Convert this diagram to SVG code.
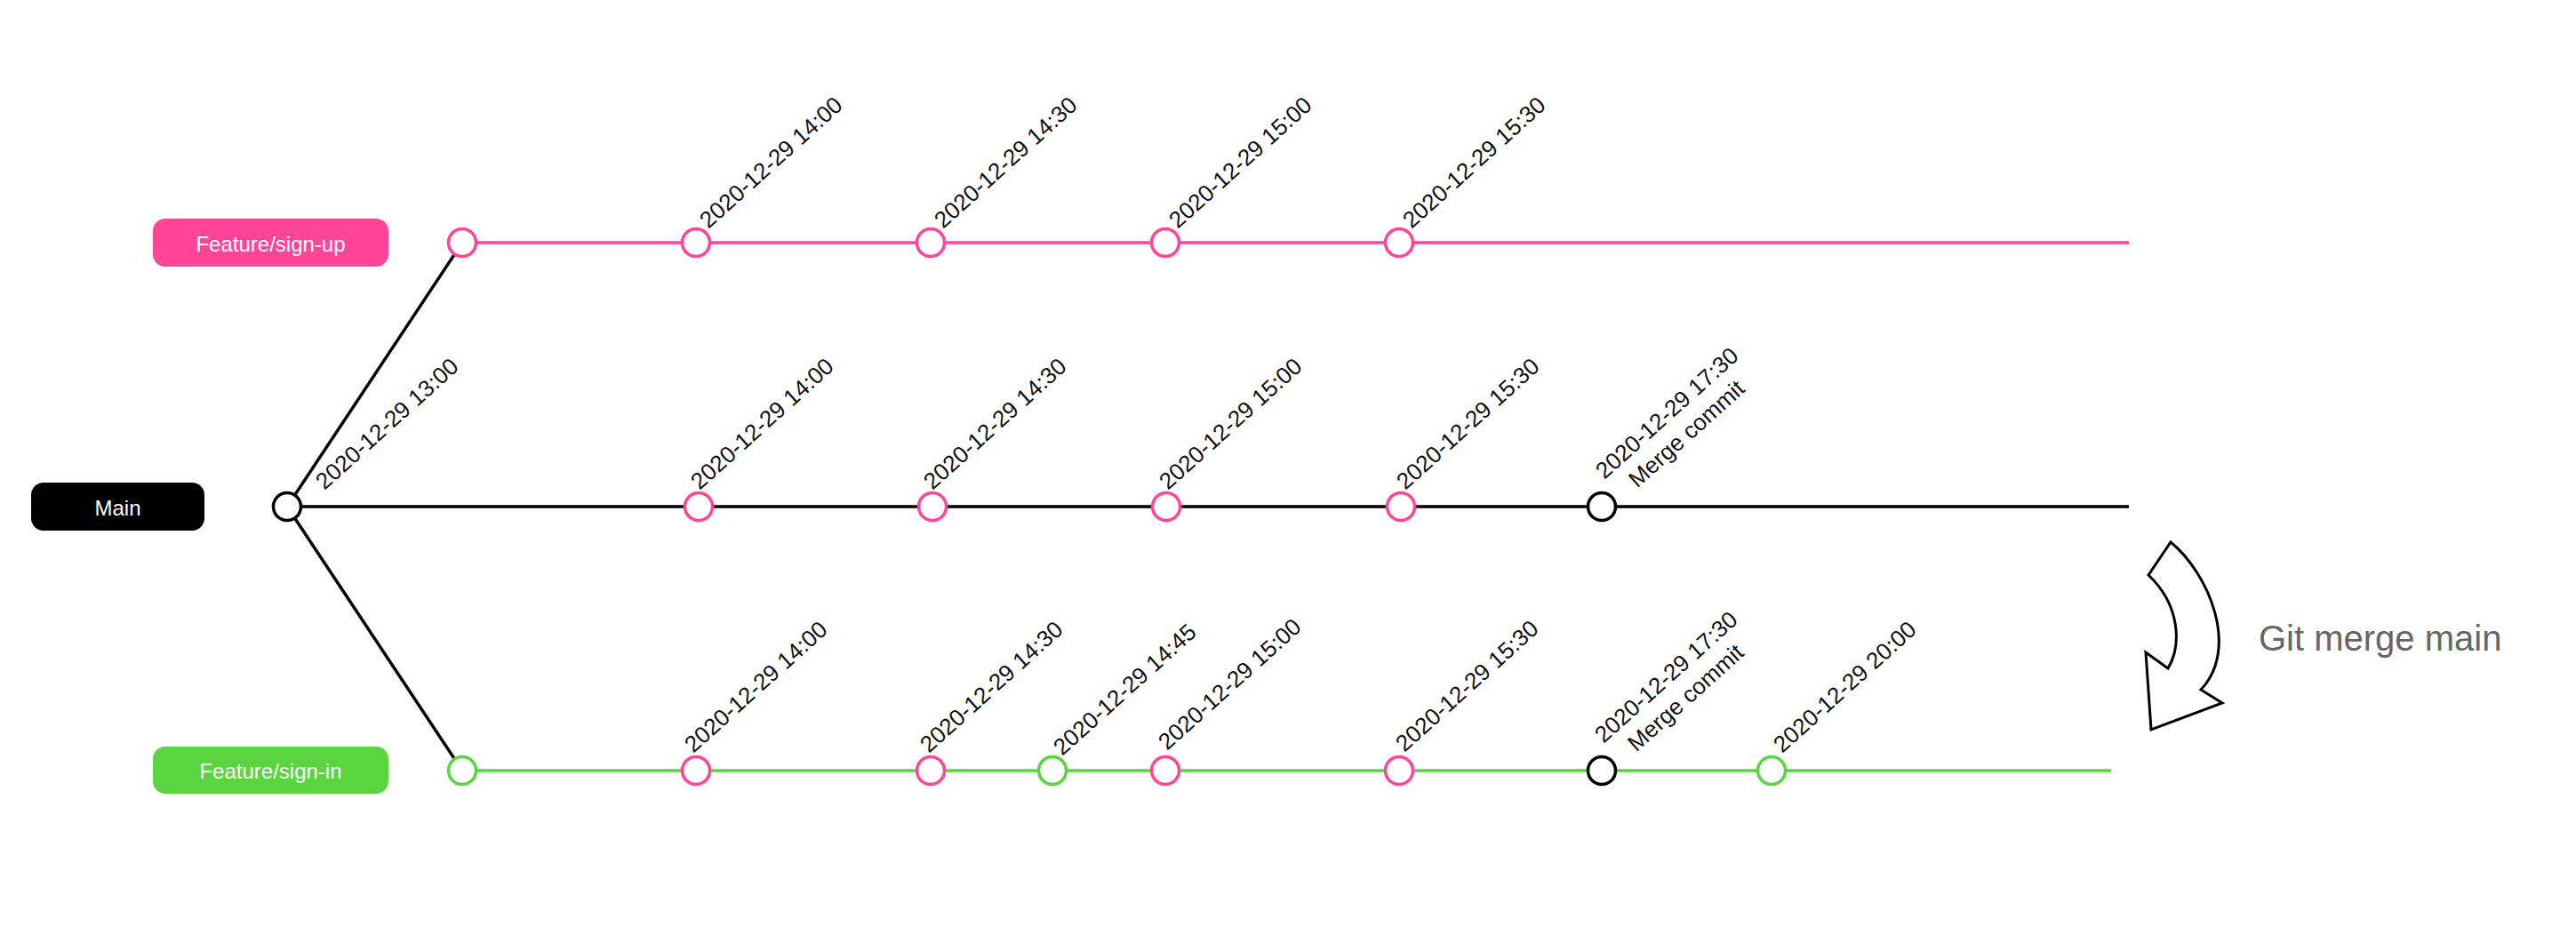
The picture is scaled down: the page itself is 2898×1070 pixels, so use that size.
<svg xmlns="http://www.w3.org/2000/svg" width="2898" height="1070" viewBox="0 0 2898 1070">
<style>
.lbl{font-family:"Liberation Sans",Arial,Helvetica,sans-serif;font-size:26px;fill:#111}
.btxt{font-family:"Liberation Sans",Arial,Helvetica,sans-serif;font-size:24px;fill:#fff;text-anchor:middle;dominant-baseline:central}
.pk{fill:#fff;stroke:#ff4499;stroke-width:3.5}
.gr{fill:#fff;stroke:#5ad43f;stroke-width:3.5}
.bk{fill:#fff;stroke:#000;stroke-width:3.5}
.lpk{stroke:#ff4499;stroke-width:3.5}
.lgr{stroke:#5ad43f;stroke-width:3.5}
.lbk{stroke:#000;stroke-width:3.5}
</style>
<rect width="2898" height="1070" fill="#fff"/>
<g id="connectors" fill="none">
  <line class="lpk" x1="520" y1="273" x2="2395" y2="273"/>
  <line class="lbk" x1="323" y1="570" x2="2395" y2="570"/>
  <line class="lgr" x1="520" y1="867" x2="2375" y2="867"/>
  <line class="lbk" x1="323" y1="570" x2="520" y2="273"/>
  <line class="lbk" x1="323" y1="570" x2="520" y2="867"/>
</g>
<g id="box-signup"><rect x="172" y="246" width="265" height="54" rx="14" fill="#ff4499"/><text class="btxt" x="304.5" y="274">Feature/sign-up</text></g>
<g id="box-main"><rect x="35" y="543" width="195" height="54" rx="14" fill="#000"/><text class="btxt" x="132.5" y="571">Main</text></g>
<g id="box-signin"><rect x="172" y="840" width="265" height="53" rx="14" fill="#5ad43f"/><text class="btxt" x="304.5" y="867">Feature/sign-in</text></g>

<g id="up-0"><circle class="pk" cx="520" cy="273" r="15.5"/></g>
<g id="up-1"><circle class="pk" cx="783" cy="273" r="15.5"/><text class="lbl" transform="translate(797,258) rotate(-42)">2020-12-29 14:00</text></g>
<g id="up-2"><circle class="pk" cx="1047" cy="273" r="15.5"/><text class="lbl" transform="translate(1061,258) rotate(-42)">2020-12-29 14:30</text></g>
<g id="up-3"><circle class="pk" cx="1311" cy="273" r="15.5"/><text class="lbl" transform="translate(1325,258) rotate(-42)">2020-12-29 15:00</text></g>
<g id="up-4"><circle class="pk" cx="1574" cy="273" r="15.5"/><text class="lbl" transform="translate(1588,258) rotate(-42)">2020-12-29 15:30</text></g>

<g id="main-0"><circle class="bk" cx="323" cy="570" r="15.5"/><text class="lbl" transform="translate(365,552) rotate(-42)">2020-12-29 13:00</text></g>
<g id="main-1"><circle class="pk" cx="786" cy="570" r="15.5"/><text class="lbl" transform="translate(787,552) rotate(-42)">2020-12-29 14:00</text></g>
<g id="main-2"><circle class="pk" cx="1049" cy="570" r="15.5"/><text class="lbl" transform="translate(1049,552) rotate(-42)">2020-12-29 14:30</text></g>
<g id="main-3"><circle class="pk" cx="1312" cy="570" r="15.5"/><text class="lbl" transform="translate(1314,552) rotate(-42)">2020-12-29 15:00</text></g>
<g id="main-4"><circle class="pk" cx="1576" cy="570" r="15.5"/><text class="lbl" transform="translate(1581,552) rotate(-42)">2020-12-29 15:30</text></g>
<g id="main-merge"><circle class="bk" cx="1802" cy="570" r="15.5"/><g transform="translate(1805,540) rotate(-42)"><text class="lbl" x="0" y="0">2020-12-29 17:30</text><text class="lbl" x="21" y="32">Merge commit</text></g></g>

<g id="in-0"><circle class="gr" cx="520" cy="867" r="15.5"/></g>
<g id="in-1"><circle class="pk" cx="783" cy="867" r="15.5"/><text class="lbl" transform="translate(780,848) rotate(-42)">2020-12-29 14:00</text></g>
<g id="in-2"><circle class="pk" cx="1047" cy="867" r="15.5"/><text class="lbl" transform="translate(1045,848) rotate(-42)">2020-12-29 14:30</text></g>
<g id="in-3"><circle class="gr" cx="1184" cy="867" r="15.5"/><text class="lbl" transform="translate(1195,851) rotate(-42)">2020-12-29 14:45</text></g>
<g id="in-4"><circle class="pk" cx="1311" cy="867" r="15.5"/><text class="lbl" transform="translate(1313,845) rotate(-42)">2020-12-29 15:00</text></g>
<g id="in-5"><circle class="pk" cx="1574" cy="867" r="15.5"/><text class="lbl" transform="translate(1580,847) rotate(-42)">2020-12-29 15:30</text></g>
<g id="in-merge"><circle class="bk" cx="1802" cy="867" r="15.5"/><g transform="translate(1804,837) rotate(-42)"><text class="lbl" x="0" y="0">2020-12-29 17:30</text><text class="lbl" x="21" y="32">Merge commit</text></g></g>
<g id="in-6"><circle class="gr" cx="1993" cy="867" r="15.5"/><text class="lbl" transform="translate(2005,848) rotate(-42)">2020-12-29 20:00</text></g>

<g id="merge-arrow">
  <path d="M2442,610 C2485,645 2520,730 2476,776 L2500,791 L2420,821 L2414,734 L2439,752 C2455,725 2452,680 2417,647 Z" fill="#fff" stroke="#000" stroke-width="3" stroke-linejoin="miter"/>
  <text x="2541" y="732" font-family="'Liberation Sans',Arial,Helvetica,sans-serif" font-size="40" fill="#666">Git merge main</text>
</g>
</svg>
